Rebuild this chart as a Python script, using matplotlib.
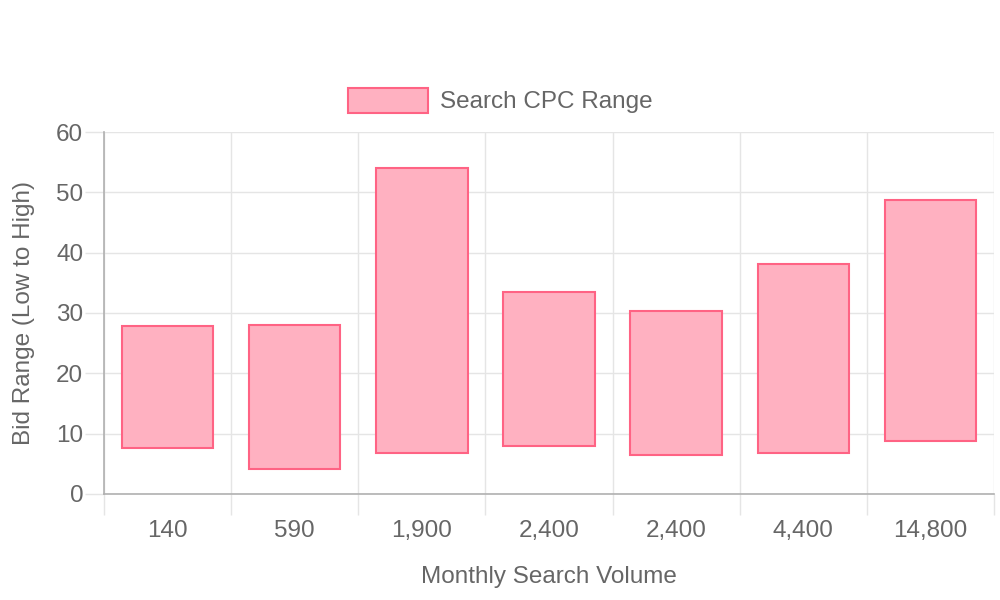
import matplotlib.pyplot as plt
import numpy as np

# --- DADOS ---
volumes = ['140', '590', '1,900', '2,400', '2,400', '4,400', '14,800']
bid_low = [7.6, 4.1, 6.8, 7.9, 6.5, 6.8, 8.8]
bid_high = [27.9, 28.0, 54.1, 33.4, 30.4, 38.1, 48.8]

plt.rcParams['font.family'] = ['Liberation Sans', 'DejaVu Sans']
TXT = '#666666'
GRID = '#e5e5e5'
AXIS = '#b0b0b0'
FS = 17.5

fig = plt.figure(figsize=(10, 6), dpi=100)
ax = fig.add_axes([0.104, 0.1767, 0.89, 0.6033])

x = np.arange(len(volumes))
heights = [h - l for l, h in zip(bid_low, bid_high)]
bars = ax.bar(x, heights, bottom=bid_low, width=0.72, color='#ffb1c1',
              edgecolor='#ff6384', linewidth=1.5, label='Search CPC Range', zorder=3)

ax.set_xlim(-0.5, len(volumes) - 0.5)
ax.set_ylim(0, 60)
ax.set_yticks(range(0, 61, 10))
ax.set_xticks(x)
ax.set_xticklabels(volumes)
ax.set_xticks(np.arange(-0.5, len(volumes), 1), minor=True)

# grades como no Chart.js: linhas nas fronteiras das categorias
ax.grid(True, which='minor', axis='x', color=GRID, linewidth=1, zorder=0)
ax.grid(True, which='major', axis='y', color=GRID, linewidth=1, zorder=0)
ax.tick_params(axis='x', which='major', length=0, pad=19, labelsize=FS, labelcolor=TXT)
ax.tick_params(axis='x', which='minor', length=15, color=GRID, width=1)
ax.tick_params(axis='y', length=14, color=GRID, width=1, pad=1, labelsize=FS, labelcolor=TXT)

for s in ['top', 'right']:
    ax.spines[s].set_visible(False)
for s in ['left', 'bottom']:
    ax.spines[s].set_color(AXIS)
    ax.spines[s].set_linewidth(1.2)

ax.set_xlabel('Monthly Search Volume', fontsize=FS, color=TXT, labelpad=17)
ax.set_ylabel('Bid Range (Low to High)', fontsize=FS, color=TXT, labelpad=15)

# legenda centrada no canvas inteiro
leg = fig.legend(handles=[bars], labels=['Search CPC Range'], loc='center',
                 bbox_to_anchor=(0.5, 1 - 100.5 / 600), frameon=False,
                 fontsize=FS, handlelength=3.3, handleheight=1.2, handletextpad=0.5)
for t in leg.get_texts():
    t.set_color(TXT)

plt.savefig('out.png')
plt.close()
